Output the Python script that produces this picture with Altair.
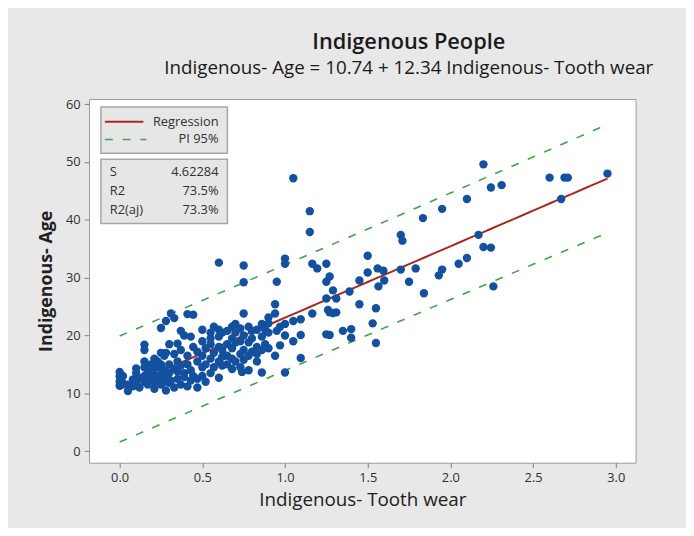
import altair as alt
import pandas as pd
import numpy as np

# ---- data ----
tooth_wear = [
    0.00, 0.00, 0.00, 0.00, 0.02, 0.02, 0.05, 0.05, 0.08, 0.08,
    0.10, 0.10, 0.10, 0.12, 0.12, 0.15, 0.15, 0.15, 0.15, 0.15, 0.15,
    0.17, 0.17, 0.19, 0.19, 0.19, 0.21, 0.21, 0.21, 0.21, 0.23, 0.23, 0.23,
    0.25, 0.25, 0.25, 0.25, 0.25, 0.27, 0.27, 0.27, 0.28, 0.28, 0.28, 0.28,
    0.30, 0.30, 0.30, 0.30, 0.31, 0.31, 0.33, 0.33, 0.33, 0.33,
    0.35, 0.35, 0.35, 0.35, 0.37, 0.37, 0.37, 0.37, 0.39, 0.39, 0.39,
    0.41, 0.41, 0.41, 0.41, 0.43, 0.43, 0.43, 0.445, 0.445, 0.445,
    0.47, 0.47, 0.47, 0.47, 0.50, 0.50, 0.50, 0.50, 0.50, 0.52, 0.52, 0.52,
    0.55, 0.55, 0.55, 0.55, 0.55, 0.57, 0.57, 0.57,
    0.60, 0.60, 0.60, 0.60, 0.60, 0.60, 0.62, 0.62, 0.62, 0.62,
    0.65, 0.65, 0.65, 0.65, 0.68, 0.68, 0.68, 0.68, 0.68, 0.70, 0.70, 0.70, 0.70,
    0.73, 0.73, 0.73, 0.73, 0.74, 0.75, 0.75, 0.75, 0.75, 0.75, 0.75,
    0.78, 0.78, 0.78, 0.78, 0.80, 0.80, 0.80, 0.83, 0.83, 0.83, 0.83,
    0.86, 0.86, 0.86, 0.86, 0.88, 0.88, 0.90, 0.90, 0.90, 0.90,
    0.94, 0.94, 0.94, 0.95, 0.95, 0.97, 0.97,
    1.00, 1.00, 1.00, 1.00, 1.00, 1.05, 1.05, 1.05, 1.095, 1.095, 1.095,
    1.15, 1.15, 1.165, 1.165, 1.195, 1.25, 1.25, 1.25, 1.25, 1.26,
    1.27, 1.27, 1.27, 1.29, 1.29, 1.31, 1.31, 1.35, 1.39, 1.40, 1.40,
    1.45, 1.45, 1.50, 1.50, 1.53, 1.55, 1.55, 1.56, 1.565, 1.595, 1.60,
    1.70, 1.70, 1.71, 1.75, 1.79, 1.834, 1.84, 1.93, 1.95, 1.95,
    2.05, 2.10, 2.10, 2.17, 2.20, 2.20, 2.245, 2.245, 2.26, 2.31,
    2.60, 2.67, 2.69, 2.71, 2.95,
]
age = [
    13.7, 12.9, 12.0, 11.3, 11.8, 13.0, 10.4, 11.5, 11.2, 12.4,
    13.5, 12.0, 14.3, 11.0, 12.6, 13.0, 14.5, 15.5, 18.4, 17.5, 12.0,
    11.5, 13.7, 12.5, 14.0, 15.0, 10.8, 12.0, 13.2, 16.0, 14.5, 12.5, 15.5,
    11.5, 13.0, 21.3, 17.0, 15.0, 12.0, 14.0, 16.5, 10.5, 12.8, 22.5, 17.0,
    11.8, 13.5, 15.0, 18.5, 23.8, 12.2, 11.0, 14.2, 16.8, 23.0,
    12.5, 13.8, 18.6, 15.5, 11.5, 14.8, 20.8, 17.5, 12.8, 13.5, 20.0,
    23.7, 11.2, 15.0, 16.5, 12.2, 14.0, 19.8, 23.6, 13.0, 18.0,
    11.0, 15.5, 17.2, 12.5, 13.0, 14.5, 16.5, 19.0, 21.0, 12.0, 15.0, 17.8,
    13.5, 16.0, 18.5, 20.5, 19.5, 14.5, 17.0, 21.5,
    12.7, 15.5, 18.0, 19.8, 21.0, 32.6, 14.8, 17.5, 20.5, 16.3,
    16.5, 18.5, 20.8, 15.0, 14.2, 17.8, 19.5, 21.5, 16.0, 15.5, 18.8, 20.5, 22.0,
    14.5, 16.8, 19.0, 21.2, 13.7, 23.8, 29.2, 32.1, 17.5, 20.0, 15.8,
    16.5, 18.8, 21.5, 14.0, 17.2, 19.5, 20.8, 15.5, 18.0, 21.0, 16.8,
    13.6, 17.5, 19.8, 22.0, 18.5, 21.0, 22.1, 23.1, 20.5, 17.8,
    23.8, 25.4, 16.5, 29.3, 20.8, 18.3, 21.5,
    33.3, 32.4, 13.6, 20.0, 22.0, 22.5, 47.2, 19.0, 22.8, 20.1, 16.1,
    41.5, 37.9, 32.4, 23.8, 31.6, 32.4, 29.3, 26.4, 20.2, 24.4,
    30.2, 24.0, 20.1, 27.8, 23.9, 26.4, 24.0, 20.8, 27.6, 21.1, 19.6,
    29.5, 25.4, 33.8, 30.9, 22.1, 24.7, 18.7, 31.6, 28.5, 31.2, 29.5,
    37.4, 31.4, 36.4, 29.3, 31.6, 40.3, 27.3, 30.4, 41.9, 31.4,
    32.4, 43.6, 33.4, 37.4, 49.6, 35.3, 45.6, 35.2, 28.5, 46.0,
    47.3, 43.6, 47.3, 47.3, 48.0,
]

intercept = 10.74
slope = 12.34
s_value = 4.62284
t_crit = 1.972
stats_labels = ["S", "R2", "R2(aj)"]
stats_values = ["4.62284", "73.5%", "73.3%"]
x_ticks = [0.0, 0.5, 1.0, 1.5, 2.0, 2.5, 3.0]
y_ticks = [0, 10, 20, 30, 40, 50, 60]

pts = pd.DataFrame({"tw": tooth_wear, "age": age})

# fitted line and 95% prediction interval
xa = np.array(tooth_wear)
n = len(xa)
xbar = xa.mean()
sxx = ((xa - xbar) ** 2).sum()
grid = np.linspace(xa.min(), xa.max(), 60)
fit = intercept + slope * grid
half = t_crit * s_value * np.sqrt(1 + 1 / n + (grid - xbar) ** 2 / sxx)
fit_df = pd.DataFrame({"tw": grid, "fit": fit, "lo": fit - half, "hi": fit + half})

xs = alt.Scale(domain=[-0.185, 3.12], nice=False, zero=False)
ys = alt.Scale(domain=[-2.0, 60.9], nice=False, zero=False)

FONT = "Open Sans"
TXT = "#303030"
RED = "#a8281e"
GREEN = "#45a049"

x_enc = alt.X("tw:Q", scale=xs, title="Indigenous- Tooth wear",
              axis=alt.Axis(values=x_ticks, format=".1f", grid=False, domain=False,
                            tickSize=5, tickColor="#808080", labelFontSize=13,
                            labelColor=TXT, labelFont=FONT, labelPadding=4,
                            titleFont=FONT, titleFontSize=19, titleFontWeight="normal",
                            titleColor="#202020", titlePadding=6))
y_enc = alt.Y("age:Q", scale=ys, title="Indigenous- Age",
              axis=alt.Axis(values=y_ticks, grid=False, domain=False, tickSize=5,
                            tickColor="#808080", labelFontSize=13, labelColor=TXT,
                            labelFont=FONT, labelPadding=4, titleFont=FONT, titleFontSize=18,
                            titleFontWeight="bold", titleColor="#202020", titlePadding=10))

points = alt.Chart(pts).mark_circle(size=72, opacity=1, color="#13519f").encode(
    x=x_enc, y=y_enc
)

reg = alt.Chart(fit_df).mark_line(color=RED, strokeWidth=2).encode(
    x=alt.X("tw:Q", scale=xs), y=alt.Y("fit:Q", scale=ys)
)
pi_hi = alt.Chart(fit_df).mark_line(color=GREEN, strokeWidth=1.6, strokeDash=[8, 10]).encode(
    x=alt.X("tw:Q", scale=xs), y=alt.Y("hi:Q", scale=ys)
)
pi_lo = alt.Chart(fit_df).mark_line(color=GREEN, strokeWidth=1.6, strokeDash=[8, 10]).encode(
    x=alt.X("tw:Q", scale=xs), y=alt.Y("lo:Q", scale=ys)
)

one = pd.DataFrame({"k": [0]})
box_style = dict(fill="#e6e6e6", stroke="#a6a6a6", strokeWidth=1.5)
leg_box = alt.Chart(one).mark_rect(**box_style).encode(
    x=alt.value(12), x2=alt.value(140), y=alt.value(8), y2=alt.value(55))
stat_box = alt.Chart(one).mark_rect(**box_style).encode(
    x=alt.value(12), x2=alt.value(140), y=alt.value(61), y2=alt.value(126))
leg_red = alt.Chart(one).mark_rule(color=RED, strokeWidth=2).encode(
    x=alt.value(16), x2=alt.value(55), y=alt.value(23))
leg_green = alt.Chart(one).mark_rule(color=GREEN, strokeWidth=1.6, strokeDash=[8, 10]).encode(
    x=alt.value(16), x2=alt.value(58), y=alt.value(41))

tstyle = dict(font=FONT, fontSize=13, color=TXT, baseline="middle")
leg_t1 = alt.Chart(one).mark_text(align="right", **tstyle).encode(
    x=alt.value(131), y=alt.value(23), text=alt.value("Regression"))
leg_t2 = alt.Chart(one).mark_text(align="right", **tstyle).encode(
    x=alt.value(131), y=alt.value(41), text=alt.value("PI 95%"))

row_y = [74, 93, 112]
stat_layers = []
for lab, val, yy in zip(stats_labels, stats_values, row_y):
    stat_layers.append(alt.Chart(one).mark_text(align="left", **tstyle).encode(
        x=alt.value(21), y=alt.value(yy), text=alt.value(lab)))
    stat_layers.append(alt.Chart(one).mark_text(align="right", **tstyle).encode(
        x=alt.value(131), y=alt.value(yy), text=alt.value(val)))

chart = alt.layer(
    pi_hi, pi_lo, reg, points, leg_box, stat_box, leg_red, leg_green,
    leg_t1, leg_t2, *stat_layers
).properties(
    width=553, height=368,
    autosize=alt.AutoSizeParams(type="none"),
    padding={"left": 82, "top": 89, "right": 51, "bottom": 63},
    title=alt.TitleParams(
        text="Indigenous People",
        subtitle="Indigenous- Age = 10.74 + 12.34 Indigenous- Tooth wear",
        anchor="middle", dx=47, offset=20,
        font=FONT, fontSize=22, fontWeight=600, color="#1a1a1a",
        subtitleFont=FONT, subtitleFontSize=19, subtitleColor="#1a1a1a",
        subtitlePadding=5,
    ),
).configure(background="#e8e8e8").configure_view(
    fill="white", stroke="#9a9a9a", strokeWidth=1
)

chart.save("out.html", embed_options={"renderer": "svg", "actions": False})
